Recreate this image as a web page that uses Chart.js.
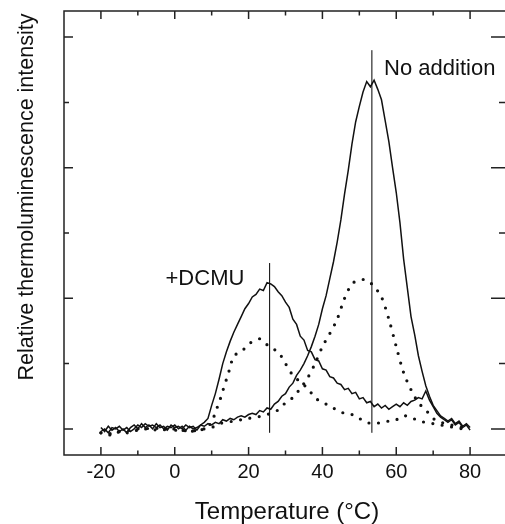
<!DOCTYPE html>
<html>
<head>
<meta charset="utf-8">
<script src="https://cdn.jsdelivr.net/npm/chart.js@4.4.1/dist/chart.umd.min.js"></script>
<style>
  html, body { margin: 0; padding: 0; background: #fff; overflow: hidden; }
  canvas { display: block; }
</style>
</head>
<body>
<canvas id="tl" width="512" height="524"></canvas>
<script>
const solidTemps = [-20,-19,-18,-17,-16,-15,-14,-13,-12,-11,-10,-9,-8,-7,-6,-5,-4,-3,-2,-1,
  0,1,2,3,4,5,6,7,8,9,10,11,12,13,14,15,16,17,18,19,20,21,22,23,24,25,26,27,28,29,
  30,31,32,33,34,35,36,37,38,39,40,41,42,43,44,45,46,47,48,49,50,51,52,53,54,55,56,57,58,59,
  60,61,62,63,64,65,66,67,68,69,70,71,72,73,74,75,76,77,78,79,80];

const noAdditionSolid = [-0.02,0.00,-0.03,0.01,0.00,0.02,-0.01,0.01,-0.02,0.00,
  0.03,0.01,0.04,0.02,0.03,0.01,0.03,0.00,0.02,0.01,
  0.03,0.00,0.02,-0.01,0.02,0.00,0.01,0.03,0.02,0.04,
  0.03,0.05,0.04,0.07,0.06,0.08,0.07,0.09,0.10,0.09,
  0.11,0.12,0.11,0.14,0.13,0.16,0.15,0.19,0.21,0.25,
  0.27,0.32,0.35,0.41,0.45,0.50,0.56,0.63,0.71,0.80,
  0.92,1.02,1.15,1.28,1.43,1.60,1.80,1.98,2.18,2.35,
  2.47,2.58,2.66,2.62,2.67,2.60,2.52,2.36,2.20,2.00,
  1.81,1.58,1.30,1.08,0.86,0.72,0.56,0.44,0.33,0.25,
  0.18,0.14,0.10,0.08,0.06,0.08,0.04,0.06,0.02,0.04,0.01];

const dcmuSolid = [0.01,-0.02,0.02,-0.01,0.01,-0.02,0.00,-0.03,0.01,0.03,
  0.00,0.04,0.01,0.03,0.00,0.04,0.01,0.02,-0.01,0.03,
  0.01,0.02,0.00,0.03,0.01,0.02,-0.01,0.03,0.05,0.08,
  0.18,0.27,0.38,0.50,0.59,0.67,0.74,0.80,0.86,0.92,
  0.96,1.01,1.03,1.07,1.06,1.12,1.11,1.09,1.05,1.02,
  0.97,0.93,0.84,0.80,0.71,0.68,0.60,0.59,0.53,0.52,
  0.46,0.45,0.40,0.39,0.35,0.34,0.30,0.31,0.27,0.28,
  0.23,0.24,0.20,0.21,0.17,0.19,0.16,0.18,0.15,0.17,
  0.19,0.17,0.20,0.18,0.21,0.22,0.24,0.23,0.29,0.22,
  0.17,0.12,0.09,0.07,0.05,0.07,0.03,0.05,0.01,0.03,-0.01];

const dotTemps = [-20,-18,-16,-14,-12,-10,-8,-6,-4,-2,0,2,4,6,8,10,12,14,16,18,
  20,22,24,26,28,30,32,34,36,38,40,42,44,46,48,50,52,54,56,58,
  60,62,64,66,68,70,72,74,76,78,80];
const noAdditionDots = [-0.03,-0.04,-0.02,-0.02,-0.01,0.00,0.00,0.01,0.00,0.00,
  -0.01,-0.01,-0.02,-0.01,0.00,0.01,0.04,0.05,0.06,0.07,
  0.08,0.09,0.10,0.12,0.145,0.20,0.24,0.31,0.39,0.50,
  0.63,0.73,0.84,1.00,1.11,1.14,1.14,1.09,1.01,0.84,
  0.63,0.43,0.30,0.20,0.145,0.08,0.05,0.04,0.02,0.01,0.00];

const dcmuDotTemps = [-20,-18,-16,-14,-12,-10,-8,-6,-4,-2,0,2,4,6,8,
  10,11,12,13,14,15,16,18,20,22,23,24,
  26,28,30,32,34,36,38,40,42,44,46,48,50,52,54,56,58,60,62,64,66,68,70,72,74,76,78];
const dcmuDots = [-0.03,-0.05,-0.02,-0.04,-0.02,-0.01,0.00,-0.01,0.00,-0.01,0.00,-0.01,-0.02,-0.01,0.00,
  0.05,0.13,0.20,0.29,0.38,0.47,0.56,0.59,0.65,0.68,0.69,0.67,
  0.62,0.59,0.50,0.41,0.36,0.31,0.24,0.20,0.18,0.14,0.12,0.11,0.08,0.05,0.04,0.05,0.06,0.07,0.10,0.09,0.06,0.05,0.04,0.03,0.02,0.01,0.00];

// vertical marker lines at the peak maxima
const peakTemps = [25.7, 53.4];
const peakTops = [1.27, 2.90];
const peakBottom = -0.03;
const peakLabels = ['+DCMU', 'No addition'];

const FONT = '"Liberation Sans", Arial, Helvetica, sans-serif';

function pairs(xs, ys) {
  return xs.map((x, i) => ({ x: x, y: ys[i] }));
}

const solidStyle = { borderColor: '#111', borderWidth: 1.5, pointRadius: 0, tension: 0, fill: false };
const dotStyle = { borderColor: '#111', borderWidth: 3.2, borderDash: [0, 9.5], borderCapStyle: 'round',
  pointRadius: 0, tension: 0.3, fill: false };

const datasets = [
  Object.assign({ label: 'No addition', data: pairs(solidTemps, noAdditionSolid) }, solidStyle),
  Object.assign({ label: '+DCMU', data: pairs(solidTemps, dcmuSolid) }, solidStyle),
  Object.assign({ label: 'No addition (dots)', data: pairs(dotTemps, noAdditionDots) }, dotStyle),
  Object.assign({ label: '+DCMU (dots)', data: pairs(dcmuDotTemps, dcmuDots) }, dotStyle)
];
peakTemps.forEach((t, i) => {
  datasets.push({
    label: 'peak ' + i,
    data: [{ x: t, y: peakBottom }, { x: t, y: peakTops[i] }],
    borderColor: '#000', borderWidth: 1, pointRadius: 0, fill: false
  });
});

// frame, inward ticks, titles and peak labels
const framePlugin = {
  id: 'frame',
  afterDraw(chart) {
    const ctx = chart.ctx;
    const a = chart.chartArea;
    const xs = chart.scales.x, ys = chart.scales.y;
    ctx.save();
    ctx.strokeStyle = '#222';
    ctx.lineWidth = 1.5;
    ctx.strokeRect(a.left, a.top, a.right - a.left, a.bottom - a.top);

    ctx.beginPath();
    for (let t = -20; t <= 80; t += 10) {
      const px = xs.getPixelForValue(t);
      const len = t % 20 === 0 ? 8 : 4.5;
      ctx.moveTo(px, a.bottom); ctx.lineTo(px, a.bottom - len);
      ctx.moveTo(px, a.top); ctx.lineTo(px, a.top + len);
    }
    for (let v = 0; v <= 3; v += 0.5) {
      const py = ys.getPixelForValue(v);
      const major = v % 1 === 0;
      ctx.moveTo(a.left, py); ctx.lineTo(a.left + (major ? 9 : 5), py);
      ctx.moveTo(a.right, py); ctx.lineTo(a.right - (major ? 16 : 8), py);
    }
    ctx.stroke();

    ctx.fillStyle = '#111';
    ctx.textAlign = 'left';
    ctx.textBaseline = 'middle';
    ctx.font = '22px ' + FONT;
    ctx.fillText(peakLabels[0], xs.getPixelForValue(-2.5), ys.getPixelForValue(1.15));
    ctx.fillText(peakLabels[1], xs.getPixelForValue(56.7), ys.getPixelForValue(2.76));

    ctx.textAlign = 'center';
    ctx.textBaseline = 'alphabetic';
    ctx.font = '24px ' + FONT;
    ctx.fillText('Temperature (\u00B0C)', 287, 519);

    ctx.translate(33, 197);
    ctx.rotate(-Math.PI / 2);
    ctx.font = '21.5px ' + FONT;
    ctx.fillText('Relative thermoluminescence intensity', 0, 0);
    ctx.restore();
  }
};

new Chart(document.getElementById('tl'), {
  type: 'line',
  data: { datasets: datasets },
  options: {
    responsive: false,
    animation: false,
    layout: { padding: { left: 64, top: 11, right: 4, bottom: 0 } },
    plugins: { legend: { display: false }, tooltip: { enabled: false } },
    scales: {
      x: {
        type: 'linear', min: -30, max: 90,
        grid: { display: false, drawTicks: false },
        border: { display: false },
        ticks: {
          stepSize: 10, autoSkip: false, maxRotation: 0, padding: 5,
          color: '#111', font: { family: FONT, size: 20 },
          callback: v => (v % 20 === 0 && v >= -20 && v <= 80) ? String(v) : ''
        },
        afterFit: s => { s.height = 69; }
      },
      y: { type: 'linear', display: false, min: -0.2, max: 3.2 }
    }
  },
  plugins: [framePlugin]
});
</script>
</body>
</html>
